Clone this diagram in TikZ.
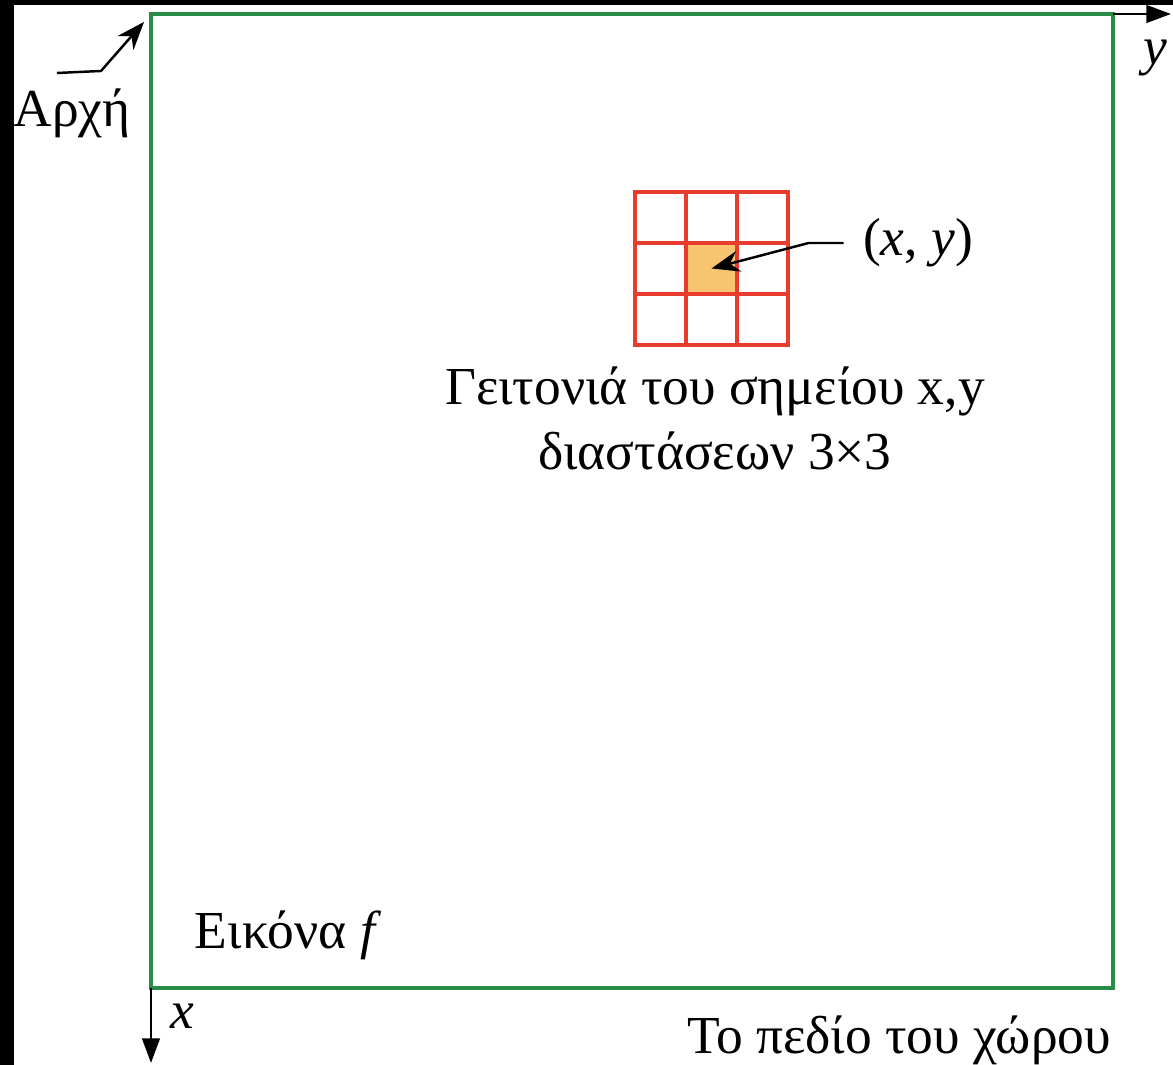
\documentclass[tikz,border=0pt]{standalone}
\usepackage{fontspec}
\setmainfont{Liberation Serif}
\usepackage{tikz}
\usetikzlibrary{positioning,arrows.meta}

\definecolor{imggreen}{RGB}{40,140,70}
\definecolor{gridred}{RGB}{232,60,45}
\definecolor{pixorange}{RGB}{247,196,112}

\begin{document}
\begin{tikzpicture}[
  x=0.01cm, y=-0.01cm,
  font=\fontsize{15.2}{18.5}\selectfont,
  every node/.style={align=center},
  frame/.style={draw=imggreen, line width=1pt},
  cell/.style={draw=gridred, line width=1pt, minimum size=0.51cm, inner sep=0pt, outer sep=0pt},
  axis/.style={-{Triangle[length=7pt,width=5pt]}, line width=0.7pt},
  pointer/.style={-{Stealth[length=8pt,width=6pt]}, line width=0.7pt}
]
% canvas with the dark strips of the scan
\fill[black] (0,0) rectangle (1173,1065);
\fill[white] (14,5) rectangle (1173,1065);
\useasboundingbox (0,0) rectangle (1173,1065);

% image f and its axes
\coordinate (origin) at (151,14);
\coordinate (far) at (1113,988);
\draw[frame] (origin) rectangle (far);
\coordinate (yend) at (1171,14);
\coordinate (xend) at (151,1063);
\draw[axis] (far |- origin) -- (yend);
\draw[axis] (origin |- far) -- (xend);
\node (ylbl) at (1155,58) {\textit{y}};
\node (xlbl) at (182,1016) {\textit{x}};

% origin label
\node (arch) at (72,113) {Αρχή};
\coordinate (archtail) at (57,73);
\draw[pointer, shorten >=3pt] (archtail) -- (101,71) -- (origin);

% 3x3 neighbourhood
\foreach \i in {0,1,2}
  \foreach \j in {0,1,2}
    \node[cell] (c\i\j) at ({660.5+51*\i},{217.5+51*\j}) {};
\node[cell, fill=pixorange] at (c11) {};
\node (xy) at (918,243) {(\textit{x}, \textit{y})};
\draw[pointer] ([xshift=-2pt]xy.west) -- ++(-35,0) -- (c11.center);

\node (neigh) at (715,418) {Γειτονιά του σημείου x,y\\διαστάσεων 3×3};

\node (img) at (288,935) {Εικόνα \textit{f}};
\node (domain) at (899,1040) {Το πεδίο του χώρου};
\end{tikzpicture}
\end{document}
